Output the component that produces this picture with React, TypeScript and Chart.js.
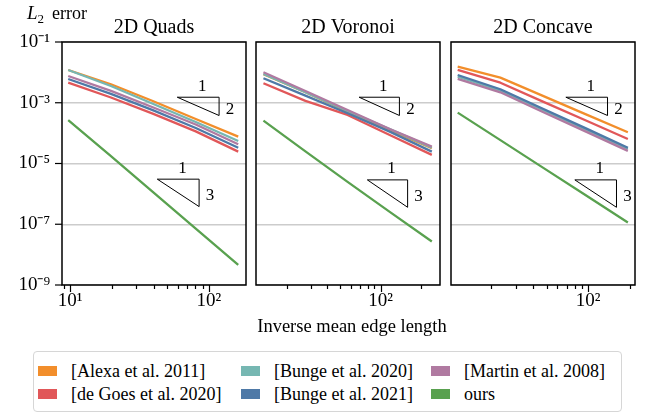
import React, { useEffect, useRef } from "react";
import { Chart, registerables } from "chart.js";

Chart.register(...registerables);

const FONT = "'Liberation Serif', 'Times New Roman', serif";

// ---------- data ----------
const methods = [
  "[Alexa et al. 2011]",
  "[de Goes et al. 2020]",
  "[Bunge et al. 2020]",
  "[Bunge et al. 2021]",
  "[Martin et al. 2008]",
  "ours",
];
const colors = ["#F28E2B", "#E15759", "#76B7B2", "#4E79A7", "#B07AA1", "#59A14F"];
const panelTitles = ["2D Quads", "2D Voronoi", "2D Concave"];

const quadsX = [9.7, 19.7, 39.8, 80.4, 162.6];
const quadsAlexa = [1.2e-2, 4.06e-3, 1.12e-3, 2.93e-4, 7.67e-5];
const quadsDeGoes = [4.58e-3, 1.49e-3, 4.28e-4, 1.14e-4, 2.46e-5];
const quadsBunge2020 = [1.2e-2, 3.57e-3, 9.14e-4, 2.33e-4, 5.53e-5];
const quadsBunge2021 = [6.07e-3, 1.95e-3, 5.58e-4, 1.48e-4, 3.31e-5];
const quadsMartin = [7.62e-3, 2.45e-3, 7.0e-4, 1.93e-4, 4.32e-5];
const quadsOurs = [2.7e-4, 1.74e-5, 1.12e-6, 7.2e-8, 4.6e-9];

const voronoiX = [13.3, 27.4, 56.6, 117, 241.5];
const voronoiAlexa = [8.65e-3, 2.21e-3, 5.1e-4, 1.24e-4, 3.18e-5];
const voronoiDeGoes = [4.38e-3, 1.15e-3, 3.97e-4, 8.72e-5, 1.92e-5];
const voronoiBunge2020 = [8.86e-3, 2.21e-3, 5.37e-4, 1.37e-4, 3.33e-5];
const voronoiBunge2021 = [6.39e-3, 1.71e-3, 4.52e-4, 1.12e-4, 2.46e-5];
const voronoiMartin = [1.01e-2, 2.45e-3, 5.8e-4, 1.37e-4, 3.6e-5];
const voronoiOurs = [2.58e-4, 2.5e-5, 2.48e-6, 2.56e-7, 2.7e-8];

const concaveX = [11.4, 23.2, 47.1, 95.5, 193.6];
const concaveAlexa = [1.54e-2, 6.7e-3, 1.68e-3, 4.22e-4, 1.07e-4];
const concaveDeGoes = [1.2e-2, 4.58e-3, 1.09e-3, 2.65e-4, 6.44e-5];
const concaveBunge2020 = [7.22e-3, 2.5e-3, 5.8e-4, 1.32e-4, 3.02e-5];
const concaveBunge2021 = [8.2e-3, 2.78e-3, 6.35e-4, 1.46e-4, 3.31e-5];
const concaveMartin = [6.07e-3, 2.21e-3, 4.98e-4, 1.14e-4, 2.6e-5];
const concaveOurs = [4.72e-4, 5.89e-5, 7.33e-6, 9.12e-7, 1.14e-7];

const xMins = [8.75, 11.7, 10.2];
const xMaxs = [185, 278, 218];
const yMin = 1e-9;
const yMax = 1e-1;
const yTickValues = [1e-9, 1e-7, 1e-5, 1e-3, 1e-1];

// slope triangles: [corner x, corner y] (run = factor 2 in x)
const slope2Corners = [
  [59.2, 1.52e-3],
  [69.1, 1.52e-3],
  [69.0, 1.52e-3],
];
const slope3Corners = [
  [42.5, 3.05e-6],
  [79.6, 2.89e-6],
  [80.1, 2.89e-6],
];

const panelX = [quadsX, voronoiX, concaveX];
const panelSeries = [
  [quadsAlexa, quadsDeGoes, quadsBunge2020, quadsBunge2021, quadsMartin, quadsOurs],
  [voronoiAlexa, voronoiDeGoes, voronoiBunge2020, voronoiBunge2021, voronoiMartin, voronoiOurs],
  [concaveAlexa, concaveDeGoes, concaveBunge2020, concaveBunge2021, concaveMartin, concaveOurs],
];

// ---------- layout ----------
const CH = 320;
const panelBoxes = [
  { left: 0, width: 252, padL: 0, padR: 6 },
  { left: 250, width: 196, padL: 6, padR: 6 },
  { left: 445, width: 196, padL: 6, padR: 6 },
];

const supMap: Record<string, string> = {
  "-": "\u207B", "0": "\u2070", "1": "\u00B9", "2": "\u00B2", "3": "\u00B3",
  "4": "\u2074", "5": "\u2075", "6": "\u2076", "7": "\u2077", "8": "\u2078", "9": "\u2079",
};
const sup = (n: number) => String(n).split("").map((c) => supMap[c] || c).join("");
const isPow10 = (v: number) => Math.abs(Math.log10(v) - Math.round(Math.log10(v))) < 1e-9;

function xTickValues(min: number, max: number) {
  const out: number[] = [];
  for (let e = 0; e <= 3; e++) {
    for (let m = 1; m <= 9; m++) {
      const v = m * Math.pow(10, e);
      if (v >= min && v <= max) out.push(v);
    }
  }
  return out;
}

function makeDecoPlugin(i: number) {
  return {
    id: "deco" + i,
    afterDatasetsDraw(chart: any) {
      const { ctx, chartArea: a, scales } = chart;
      const xs = scales.x;
      const ys = scales.y;
      ctx.save();
      // slope triangles
      const tris: [number, number, number][] = [
        [slope2Corners[i][0], slope2Corners[i][1], 2],
        [slope3Corners[i][0], slope3Corners[i][1], 3],
      ];
      for (const [cx, cy, s] of tris) {
        const x0 = xs.getPixelForValue(cx);
        const x1 = xs.getPixelForValue(cx * 2);
        const y0 = ys.getPixelForValue(cy);
        const y1 = ys.getPixelForValue(cy / Math.pow(2, s));
        ctx.strokeStyle = "#000";
        ctx.lineWidth = 1;
        ctx.beginPath();
        ctx.moveTo(x0, y0);
        ctx.lineTo(x1, y0);
        ctx.lineTo(x1, y1);
        ctx.closePath();
        ctx.stroke();
        ctx.fillStyle = "#000";
        ctx.font = `17px ${FONT}`;
        ctx.textAlign = "center";
        ctx.textBaseline = "middle";
        ctx.fillText("1", x0 + 0.6 * (x1 - x0), y0 - 11);
        ctx.fillText(String(s), x1 + 11, (y0 + y1) / 2 + 3);
      }
      // frame
      ctx.strokeStyle = "#000";
      ctx.lineWidth = 1.5;
      ctx.strokeRect(a.left, a.top, a.right - a.left, a.bottom - a.top);
      // x ticks
      ctx.lineWidth = 1.2;
      for (const t of xs.ticks) {
        const p = Math.round(xs.getPixelForValue(t.value)) + 0.5;
        const len = isPow10(t.value) ? 7 : 4;
        ctx.beginPath();
        ctx.moveTo(p, a.bottom);
        ctx.lineTo(p, a.bottom + len);
        ctx.stroke();
      }
      if (i === 0) {
        for (const t of ys.ticks) {
          const p = ys.getPixelForValue(t.value);
          ctx.beginPath();
          ctx.moveTo(a.left - 7, p);
          ctx.lineTo(a.left, p);
          ctx.stroke();
        }
        // y label "L2 error"
        ctx.fillStyle = "#000";
        ctx.textAlign = "left";
        ctx.textBaseline = "alphabetic";
        ctx.font = `italic 19px ${FONT}`;
        ctx.fillText("L", 27, 19);
        const lw = ctx.measureText("L").width;
        ctx.font = `13px ${FONT}`;
        ctx.fillText("2", 27 + lw, 23);
        ctx.font = `18px ${FONT}`;
        ctx.fillText("error", 52, 19);
      }
      ctx.restore();
    },
  };
}

function buildChart(canvas: HTMLCanvasElement, i: number) {
  const xs = panelX[i];
  const datasets = panelSeries[i].map((vals, k) => ({
    label: methods[k],
    data: vals.map((v, j) => ({ x: xs[j], y: v })),
    borderColor: colors[k],
    backgroundColor: colors[k],
    borderWidth: 2.3,
    pointRadius: 0,
    tension: 0,
    fill: false,
    order: 10 - k,
    borderJoinStyle: "round" as const,
  }));
  const box = panelBoxes[i];
  const ticksX = xTickValues(xMins[i], xMaxs[i]);
  return new Chart(canvas, {
    type: "line",
    data: { datasets },
    options: {
      responsive: false,
      maintainAspectRatio: false,
      animation: false,
      layout: { padding: { left: box.padL, right: box.padR, top: 0, bottom: 0 } },
      plugins: {
        legend: { display: false },
        tooltip: { enabled: false },
        title: {
          display: true,
          fullSize: false,
          text: panelTitles[i],
          color: "#000",
          font: { family: FONT, size: 20, weight: "normal" },
          padding: { top: 16, bottom: 2 },
        },
      },
      scales: {
        x: {
          type: "logarithmic",
          min: xMins[i],
          max: xMaxs[i],
          bounds: "data",
          grid: { display: false, drawTicks: false },
          border: { display: false },
          ticks: {
            autoSkip: false,
            maxRotation: 0,
            padding: 5,
            color: "#000",
            font: { family: FONT, size: 19 },
            callback: (v: any) => {
              const n = Number(v);
              return isPow10(n) ? "10" + sup(Math.round(Math.log10(n))) : "";
            },
          },
          afterBuildTicks: (scale: any) => {
            scale.ticks = ticksX.map((v) => ({ value: v, major: isPow10(v) }));
          },
          afterFit: (scale: any) => {
            scale.height = 35;
          },
        },
        y: {
          type: "logarithmic",
          min: yMin,
          max: yMax,
          bounds: "data",
          grid: { color: "#cccccc", lineWidth: 1.5, drawTicks: false },
          border: { display: false },
          ticks: {
            display: i === 0,
            padding: 12,
            color: "#000",
            font: { family: FONT, size: 19 },
            callback: (v: any) => "10" + sup(Math.round(Math.log10(Number(v)))),
          },
          afterBuildTicks: (scale: any) => {
            scale.ticks = yTickValues.map((v) => ({ value: v, major: true }));
          },
          afterFit: (scale: any) => {
            scale.width = i === 0 ? 62 : 0;
          },
        },
      },
    } as any,
    plugins: [makeDecoPlugin(i)],
  });
}

const legendCols = [4, 207, 397];
const legendRows = [19, 42];

export default function App() {
  const r0 = useRef<HTMLCanvasElement>(null);
  const r1 = useRef<HTMLCanvasElement>(null);
  const r2 = useRef<HTMLCanvasElement>(null);

  useEffect(() => {
    const refs = [r0, r1, r2];
    const charts = refs.map((r, i) => buildChart(r.current as HTMLCanvasElement, i));
    return () => charts.forEach((c) => c.destroy());
  }, []);

  const refs = [r0, r1, r2];
  return (
    <div
      style={{
        position: "fixed",
        left: 0,
        top: 0,
        width: 649,
        height: 413,
        background: "#fff",
        overflow: "hidden",
        fontFamily: FONT,
      }}
    >
      {panelBoxes.map((b, i) => (
        <div key={i} style={{ position: "absolute", left: b.left, top: 0, width: b.width, height: CH }}>
          <canvas ref={refs[i]} width={b.width} height={CH} style={{ display: "block", width: b.width, height: CH }} />
        </div>
      ))}
      <div
        style={{
          position: "absolute",
          left: 252,
          width: 200,
          top: 315,
          textAlign: "center",
          fontSize: 18.5,
          lineHeight: "22px",
          color: "#000",
          whiteSpace: "nowrap",
        }}
      >
        Inverse mean edge length
      </div>
      <div
        style={{
          position: "absolute",
          left: 33,
          top: 351,
          width: 589,
          height: 61,
          border: "1.5px solid #d6d6d6",
          borderRadius: 4,
          boxSizing: "border-box",
        }}
      >
        {methods.map((m, k) => {
          const col = Math.floor(k / 2);
          const row = k % 2;
          return (
            <div
              key={k}
              style={{
                position: "absolute",
                left: legendCols[col],
                top: legendRows[row] - 11,
                height: 22,
                display: "flex",
                alignItems: "center",
                whiteSpace: "nowrap",
              }}
            >
              <span style={{ display: "inline-block", width: 19, height: 10, background: colors[k] }} />
              <span style={{ marginLeft: 14, fontSize: 18, lineHeight: "22px", color: "#000" }}>{m}</span>
            </div>
          );
        })}
      </div>
    </div>
  );
}
